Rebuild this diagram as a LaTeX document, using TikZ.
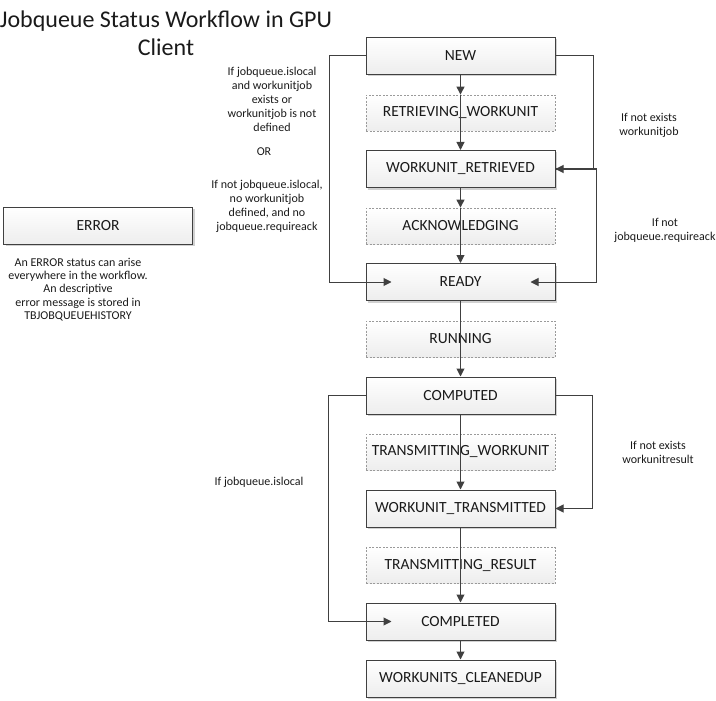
\documentclass[tikz,border=0pt]{standalone}
\usepackage{fontspec}
\setmainfont{Carlito}
\usetikzlibrary{arrows.meta,shadows,calc}
\definecolor{linec}{HTML}{404040}
\definecolor{dashc}{HTML}{9A9A9A}
\definecolor{txtc}{HTML}{1A1A1A}
\begin{document}
\begin{tikzpicture}[x=1pt,y=-1pt,
  statebox/.style={rectangle, draw=linec, line width=1pt, minimum width=189pt, minimum height=37pt,
    top color=white, bottom color=black!7, text=txtc, font=\fontsize{15.5}{18}\selectfont,
    drop shadow={shadow xshift=2pt, shadow yshift=-2pt, fill=black!18, opacity=1}},
  transbox/.style={rectangle, draw=dashc, line width=0.8pt, dash pattern=on 2pt off 1.5pt,
    minimum width=189pt, minimum height=36pt,
    top color=white, bottom color=black!7, text=txtc, font=\fontsize{15.5}{18}\selectfont},
  conn/.style={draw=linec, line width=1pt},
  arr/.style={conn, -{Triangle[length=8pt,width=8pt]}},
  lbl/.style={align=center, text=txtc, font=\fontsize{12}{14}\selectfont, inner sep=0pt},
]
\useasboundingbox (0,0) rectangle (716,701);

% title
\node[align=center, text=txtc, font=\fontsize{24}{28}\selectfont, inner sep=0pt] (title) at (166,33)
  {Jobqueue Status Workflow in GPU\\Client};

% states
\node[statebox] (new) at (460.5,56) {NEW};
\node[transbox] (rw) at (460.5,113) {RETRIEVING\_WORKUNIT};
\node[statebox] (wr) at (460.5,169) {WORKUNIT\_RETRIEVED};
\node[transbox] (ack) at (460.5,226) {ACKNOWLEDGING};
\node[statebox] (ready) at (460.5,282) {READY};
\node[transbox] (run) at (460.5,339) {RUNNING};
\node[statebox] (comp) at (460.5,395.5) {COMPUTED};
\node[transbox] (tw) at (460.5,452) {TRANSMITTING\_WORKUNIT};
\node[statebox] (wt) at (460.5,508.5) {WORKUNIT\_TRANSMITTED};
\node[transbox] (tr) at (460.5,565.5) {TRANSMITTING\_RESULT};
\node[statebox] (compl) at (460.5,621.5) {COMPLETED};
\node[statebox] (clean) at (460.5,678.5) {WORKUNITS\_CLEANEDUP};

\node[statebox] (error) at (98,225.5) {ERROR};

% main vertical flow
\draw[arr] (new.south) -- (rw.north);
\draw[arr] (rw.north) -- (wr.north);
\draw[arr] (wr.south) -- (ack.north);
\draw[arr] (ack.north) -- (ready.north);
\draw[arr] (ready.south) -- (comp.north);
\draw[arr] (comp.south) -- (wt.north);
\draw[arr] (wt.south) -- (compl.north);
\draw[arr] (compl.south) -- (clean.north);

% bypass connectors
\coordinate (l1) at (329,282);
\coordinate (r1) at (593,169);
\coordinate (r2) at (596,282);
\coordinate (l2) at (328,621.5);
\coordinate (r3) at (592,508.5);
\draw[arr] (new.west) -| (l1) -- ($(ready.west)+(26,0)$);
\draw[arr] (new.east) -| (r1) -- (wr.east);
\draw[arr] (wr.east) -| (r2) -- ($(ready.east)+(-25,0)$);
\draw[arr] (comp.west) -| (l2) -- ($(compl.west)+(26,0)$);
\draw[arr] (comp.east) -| (r3) -- (wt.east);

% labels
\node[lbl] (c1) at (272,99.5) {If jobqueue.islocal\\and workunitjob\\exists or\\workunitjob is not\\defined};
\node[lbl] (c2) at (264,152) {OR};
\node[lbl] (c3) at (267,206) {If not jobqueue.islocal,\\no workunitjob\\defined, and no\\jobqueue.requireack};
\node[lbl] (c4) at (649,125.5) {If not exists\\workunitjob};
\node[lbl] (c5) at (665,230) {If not\\jobqueue.requireack};
\node[lbl] (c6) at (658,452) {If not exists\\workunitresult};
\node[lbl] (c7) at (259,482) {If jobqueue.islocal};
\node[lbl, font=\fontsize{12}{13.2}\selectfont] (c8) at (78,289.5) {An ERROR status can arise\\everywhere in the workflow.\\An descriptive\\error message is stored in\\TBJOBQUEUEHISTORY};
\end{tikzpicture}
\end{document}
